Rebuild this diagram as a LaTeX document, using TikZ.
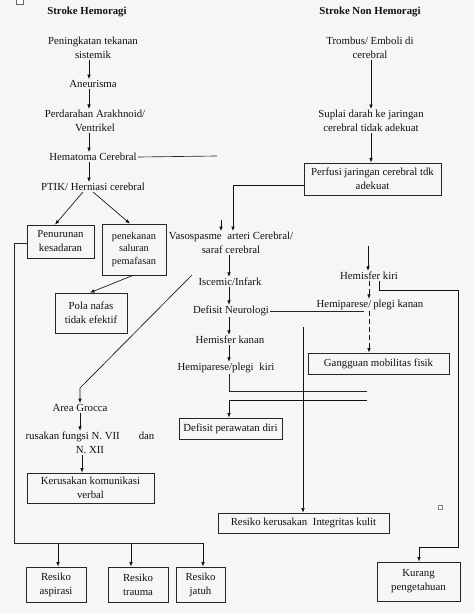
\documentclass[tikz,border=0pt]{standalone}
\usepackage{fontspec}
\setmainfont{Liberation Serif}
\usetikzlibrary{arrows.meta}
\definecolor{bg}{HTML}{F6F6F6}
\definecolor{ink}{HTML}{111111}
\begin{document}
\begin{tikzpicture}[x=1pt,y=-1pt,
  txt/.style={font=\fontsize{10.8}{14}\selectfont, text=ink, inner sep=1pt, align=center},
  ttl/.style={font=\fontsize{10.8}{14}\selectfont\bfseries, text=ink, inner sep=1pt},
  box/.style={txt, draw=black!85, line width=0.75pt, inner sep=2pt},
  arr/.style={-{Latex[length=4.5pt,width=3.6pt]}, line width=0.65pt, draw=ink},
  ln/.style={line width=0.65pt, draw=black!85},
  dsh/.style={arr, dash pattern=on 5pt off 3pt}
]
\fill[bg] (0,0) rectangle (474,613);
\useasboundingbox (0,0) rectangle (474,613);
\draw[black!60, line width=0.5pt, fill=white] (16,-3) rectangle (23,4);
\draw[black!50, line width=0.4pt, fill=white] (438,505) rectangle (442,509);

% titles
\node[ttl] (sh) at (87,12) {Stroke Hemoragi};
\node[ttl] (snh) at (370,12) {Stroke Non Hemoragi};

% left column
\node[txt] (pen) at (93,48) {Peningkatan tekanan\\sistemik};
\node[txt] (an) at (93,84) {Aneurisma};
\node[txt] (perd) at (95,121) {Perdarahan Arakhnoid/\\Ventrikel};
\node[txt] (hem) at (93,157) {Hematoma Cerebral};
\node[txt] (ptik) at (93,187) {PTIK/ Herniasi cerebral};
\node[box, minimum width=67pt, minimum height=33pt] (penur) at (60.5,241.5) {Penurunan\\kesadaran};
\node[box, minimum width=64pt, minimum height=51pt, font=\fontsize{10.3}{12.5}\selectfont] (penek) at (134,249.5) {penekanan\\saluran\\pemafasan};
\node[box, minimum width=72pt, minimum height=40pt] (pola) at (91,313) {Pola nafas\\tidak efektif};
\node[txt] (area) at (80,408) {Area Grocca};
\node[txt] (rus) at (90,443) {rusakan fungsi N. VII\hspace{19pt}dan\\N. XII};
\node[box, minimum width=127pt, minimum height=30pt] (ker) at (90.5,488) {Kerusakan komunikasi\\verbal};
\node[box, minimum width=60pt, minimum height=35pt] (ra) at (56,584.5) {Resiko\\aspirasi};
\node[box, minimum width=60pt, minimum height=35pt] (rt) at (138,584.5) {Resiko\\trauma};
\node[box, minimum width=49pt, minimum height=35pt] (rj) at (200.5,584.5) {Resiko\\jatuh};

% right column
\node[txt] (trom) at (370,48) {Trombus/ Emboli di\\cerebral};
\node[txt] (sup) at (371,121) {Suplai darah ke jaringan\\cerebral tidak adekuat};
\node[box, minimum width=137pt, minimum height=32pt] (perf) at (372.5,179) {Perfusi jaringan cerebral tdk\\adekuat};
\node[txt] (vaso) at (231,243) {Vasospasme\hspace{3pt} arteri Cerebral/\\saraf cerebral};
\node[txt] (isc) at (230,282) {Iscemic/Infark};
\node[txt] (def) at (231,311) {Defisit Neurologi};
\node[txt] (hka) at (230,340) {Hemisfer kanan};
\node[txt] (hpki) at (226,368) {Hemiparese/plegi\hspace{3pt} kiri};
\node[box, minimum width=103pt, minimum height=21pt] (dper) at (230.5,428.5) {Defisit perawatan diri};
\node[box, minimum width=171pt, minimum height=20pt] (rkul) at (303.5,523) {Resiko kerusakan\hspace{3pt} Integritas kulit};
\node[txt] (hki) at (369,276) {Hemisfer kiri};
\node[txt] (hpka) at (370,305) {Hemiparese/\hspace{2pt}plegi kanan};
\node[box, minimum width=141pt, minimum height=21pt] (gang) at (378.5,363.5) {Gangguan mobilitas fisik};
\node[box, minimum width=83pt, minimum height=39pt] (kur) at (418.5,581.5) {Kurang\\pengetahuan};

% free ends
\coordinate (hemend) at (217,156);
\coordinate (sarrow) at (221,220);
\coordinate (diag) at (192,275);
\coordinate (defend) at (364,311);
\coordinate (kiriline) at (367,391);
\coordinate (kananline) at (367,400);
\coordinate (kulitline) at (303,327);
\coordinate (kiritop) at (368,246);
\coordinate (bus) at (14,543);

% left connectors
\draw[arr] (pen.south -| 89,0) -- (an.north -| 89,0);
\draw[arr] (an.south -| 89,0) -- (perd.north -| 89,0);
\draw[arr] (perd.south -| 89,0) -- (hem.north -| 89,0);
\draw[arr] (hem.south -| 89,0) -- (ptik.north -| 89,0);
\draw[ln] (hem.east) -- (hemend);
\draw[arr] (ptik.south -| 83,0) -- (penur.north -| 55,0);
\draw[arr] (ptik.south -| 93,0) -- (penek.north -| 130,0);
\draw[arr] (penek.south -| 133,0) -- (pola.north -| 90,0);
\draw[ln] ([yshift=-1.5pt]penur.west) -| (bus) -- (203,543);
\draw[arr] (58,543) -- (ra.north -| 58,0);
\draw[arr] (131,543) -- (rt.north -| 131,0);
\draw[arr] (203,543) -- (rj.north -| 203,0);
\draw[arr] (diag) -- (80,388) -- (area.north -| 80,0);
\draw[arr] (area.south -| 80,0) -- (rus.north -| 80,0);
\draw[arr] (rus.south -| 82,0) -- (ker.north -| 82,0);

% right connectors
\draw[arr] (trom.south -| 371,0) -- (sup.north -| 371,0);
\draw[arr] (sup.south -| 371,0) -- (perf.north -| 371,0);
\draw[arr] ([yshift=-6pt]perf.west) -| (vaso.north -| 233,0);
\draw[arr] (sarrow) -- (vaso.north -| 221,0);
\draw[arr] (vaso.south -| 229,0) -- (isc.north -| 229,0);
\draw[arr] (isc.south -| 229,0) -- (def.north -| 229,0);
\draw[ln] (def.east) -- (defend);
\draw[arr] (def.south -| 229,0) -- (hka.north -| 229,0);
\draw[arr] (hka.south -| 229,0) -- (hpki.north -| 229,0);
\draw[ln] (hpki.south -| 229,0) |- (kiriline);
\draw[arr] (kananline) -| (dper.north -| 229,0);
\draw[arr, line width=0.5pt] (kulitline) -- (rkul.north -| 303,0);
\draw[arr] (kiritop) -- (hki.north -| 368,0);
\draw[dsh] (hki.south -| 369,0) -- (hpka.north -| 369,0);
\draw[dsh] (hpka.south -| 369,0) -- (gang.north -| 369,0);
\draw[arr] (hki.south -| 379,0) |- (458,290) |- (419,547) -- (kur.north -| 419,0);
\end{tikzpicture}
\end{document}
